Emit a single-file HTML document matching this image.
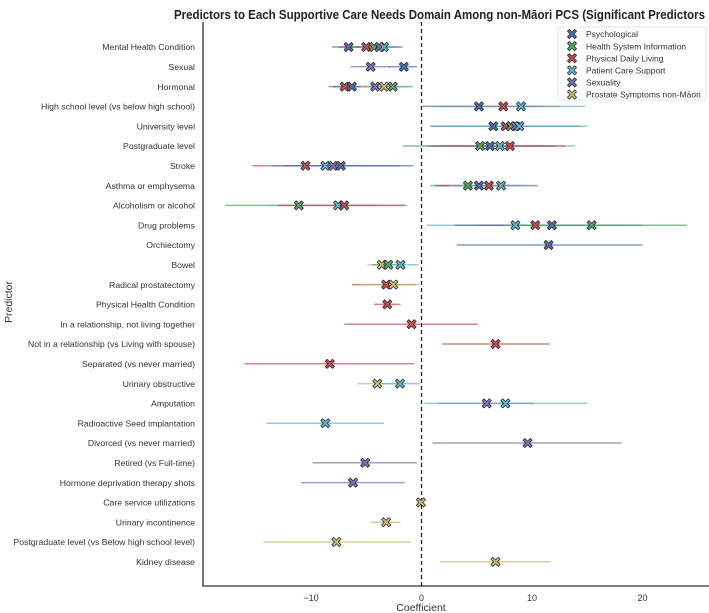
<!DOCTYPE html>
<html><head><meta charset="utf-8">
<style>
html,body{margin:0;padding:0;background:#fff;}
svg{display:block;font-family:"Liberation Sans",Arial,sans-serif;}
</style></head>
<body>
<svg id="chart" width="709" height="613" viewBox="0 0 709 613" xmlns="http://www.w3.org/2000/svg">
<g id="grid"></g>
<g id="marks"></g>
<g id="labels"></g>
</svg>
<script>
const predictors = ["Mental Health Condition","Sexual","Hormonal","High school level (vs below high school)","University level","Postgraduate level","Stroke","Asthma or emphysema","Alcoholism or alcohol","Drug problems","Orchiectomy","Bowel","Radical prostatectomy","Physical Health Condition","In a relationship, not living together","Not in a relationship (vs Living with spouse)","Separated (vs never married)","Urinary obstructive","Amputation","Radioactive Seed implantation","Divorced (vs never married)","Retired (vs Full-time)","Hormone deprivation therapy shots","Care service utilizations","Urinary incontinence","Postgraduate level (vs Below high school level)","Kidney disease"];
const domains = ["Psychological","Health System Information","Physical Daily Living","Patient Care Support","Sexuality","Prostate Symptoms non-Māori"];
const domainColors = ["#4c72b0","#55a868","#c44e52","#64b5cd","#8172b2","#ccb974"];
// each entry: [rowIndex, domainIndex, coefficient, ciLow, ciHigh]
const rowIdx   = [0,0,0,0,0, 1,1, 2,2,2,2,2, 3,3,3, 4,4,4,4,4, 5,5,5,5, 6,6,6,6, 7,7,7,7, 8,8,8, 9,9,9,9, 10, 11,11,11, 12,12, 13, 14, 15, 16, 17,17, 18,18, 19, 20, 21, 22, 23, 24, 25, 26];
const domIdx   = [0,2,1,4,3, 4,0, 2,0,4,5,1, 0,2,3, 0,2,1,4,3, 1,0,3,2, 2,3,4,0, 1,0,2,3, 1,3,2, 3,2,0,1, 0, 5,1,3, 2,5, 2, 2, 2, 2, 5,3, 4,3, 3, 4, 4, 4, 5, 5, 5, 5];
const coefs    = [-6.6,-5.0,-4.3,-3.8,-3.4, -4.6,-1.6, -6.95,-6.3,-4.2,-3.4,-2.6, 5.2,7.4,9.0, 6.5,7.6,8.1,8.5,8.85, 5.3,6.2,7.1,8.0, -10.5,-8.7,-8.0,-7.3, 4.2,5.2,6.1,7.2, -11.1,-7.55,-7.0, 8.5,10.3,11.8,15.4, 11.5, -3.6,-3.0,-1.9, -3.2,-2.55, -3.1, -0.9, 6.7, -8.3, -4.0,-1.95, 5.9,7.6, -8.7, 9.6, -5.1, -6.2, -0.05, -3.2, -7.7, 6.7];
const ciLow    = [-8.1,-7.5,-6.8,-6.0,-5.5, -6.4,-3.0, -8.4,-8.0,-6.5,-5.5,-4.8, -0.1,1.5,1.0, 0.8,1.5,1.8,2.0,1.2, -1.7,0.5,0.0,1.0, -15.3,-14.0,-13.5,-12.5, 0.8,1.2,1.5,2.5, -17.8,-14.0,-13.0, 0.5,5.0,3.0,7.5, 3.2, -4.9,-4.5,-3.5, -6.3,-5.5, -4.3, -7.0, 1.9, -16.0, -5.8,-3.8, 1.5,0.25, -14.0, 1.0, -9.85, -10.9, -0.15, -4.6, -14.3, 1.7];
const ciHigh   = [-4.5,-2.5,-2.0,-1.7,-1.8, -2.8,-0.4, -5.0,-4.5,-2.0,-1.2,-0.8, 10.5,12.5,14.8, 12.0,13.0,14.0,14.5,15.0, 11.5,12.0,13.9,13.0, -5.0,-3.5,-2.0,-0.75, 8.0,9.0,10.5,10.0, -4.0,-1.25,-1.5, 16.0,18.0,20.0,24.0, 20.0, -2.5,-1.5,-0.3, -0.5,-0.25, -1.9, 5.1, 11.6, -0.65, -2.0,-0.1, 10.2,15.0, -3.4, 18.1, -0.4, -1.5, 0.05, -1.9, -0.95, 11.7];
const xTicks = [-10,0,10,20];

const NS="http://www.w3.org/2000/svg";
const L=203,R=709,T=22,B=586;
const X0=421.5, PX=11.05;
function xs(v){return X0+v*PX;}
function ys(i){return 47+i*19.8;}
function mk(tag,attrs,parent){const e=document.createElementNS(NS,tag);for(const k in attrs)e.setAttribute(k,attrs[k]);parent.appendChild(e);return e;}
const grid=document.getElementById('grid'),marks=document.getElementById('marks'),labels=document.getElementById('labels');
function xMarker(cx,cy,color,parent){
  const s=4.6,w=1.9;
  const d=`M${cx-s},${cy-s+w} L${cx-s+w},${cy-s} L${cx},${cy-w} L${cx+s-w},${cy-s} L${cx+s},${cy-s+w} L${cx+w},${cy} L${cx+s},${cy+s-w} L${cx+s-w},${cy+s} L${cx},${cy+w} L${cx-s+w},${cy+s} L${cx-s},${cy+s-w} L${cx-w},${cy} Z`;
  return mk('path',{d:d,fill:color,stroke:'#222','stroke-width':0.7},parent);
}
// title
let t=mk('text',{x:174,y:19,'font-size':12.5,'font-weight':'bold',fill:'#222',textLength:531,lengthAdjust:'spacingAndGlyphs'},labels);
t.textContent="Predictors to Each Supportive Care Needs Domain Among non-Māori PCS (Significant Predictors";


// y labels
predictors.forEach((p,i)=>{
  const e=mk('text',{x:195,y:ys(i)+3.2,'font-size':8.7,'text-anchor':'end',fill:'#333'},labels);
  e.textContent=p;
  
  
});
// x ticks
xTicks.forEach(v=>{
  const e=mk('text',{x:xs(v),y:601,'font-size':9,'text-anchor':'middle',fill:'#333'},labels);
  e.textContent=v<0?'−'+Math.abs(v):String(v);
  
  
});
let xt=mk('text',{x:421,y:611,'font-size':10.5,'text-anchor':'middle',fill:'#333'},labels);
xt.textContent="Coefficient";


let yt=mk('text',{x:0,y:0,'font-size':10.5,'text-anchor':'middle',fill:'#333',transform:'translate(12,302) rotate(-90)'},labels);
yt.textContent="Predictor";


// spines
let sp=mk('path',{d:`M${L},${T} L${L},${B} L${R},${B}`,fill:'none',stroke:'#555','stroke-width':1.6},grid);


// zero line
let z=mk('line',{x1:xs(0),x2:xs(0),y1:T,y2:B,stroke:'#222','stroke-width':1.3,'stroke-dasharray':'4,3'},grid);


// CI lines
for(let k=0;k<coefs.length;k++){
  const ln=mk('line',{x1:xs(ciLow[k]),x2:xs(ciHigh[k]),y1:ys(rowIdx[k]),y2:ys(rowIdx[k]),stroke:domainColors[domIdx[k]],'stroke-width':1.5,'stroke-opacity':0.7},marks);
  
  
}
for(let k=0;k<coefs.length;k++){
  const m=xMarker(xs(coefs[k]),ys(rowIdx[k]),domainColors[domIdx[k]],marks);
  
  
}
// legend
const lg=mk('g',{},labels);


mk('rect',{x:558,y:27,width:148,height:73,fill:'#fff','fill-opacity':0.85,stroke:'#ddd','stroke-width':0.8,rx:2},lg);
domains.forEach((d,i)=>{
  const yy=34+i*12.1;
  const m=xMarker(572,yy,domainColors[i],lg);
  
  
  const e=mk('text',{x:586,y:yy+3.2,'font-size':8.5,fill:'#333'},lg);
  e.textContent=d;
  
  
});
</script>
</body></html>
